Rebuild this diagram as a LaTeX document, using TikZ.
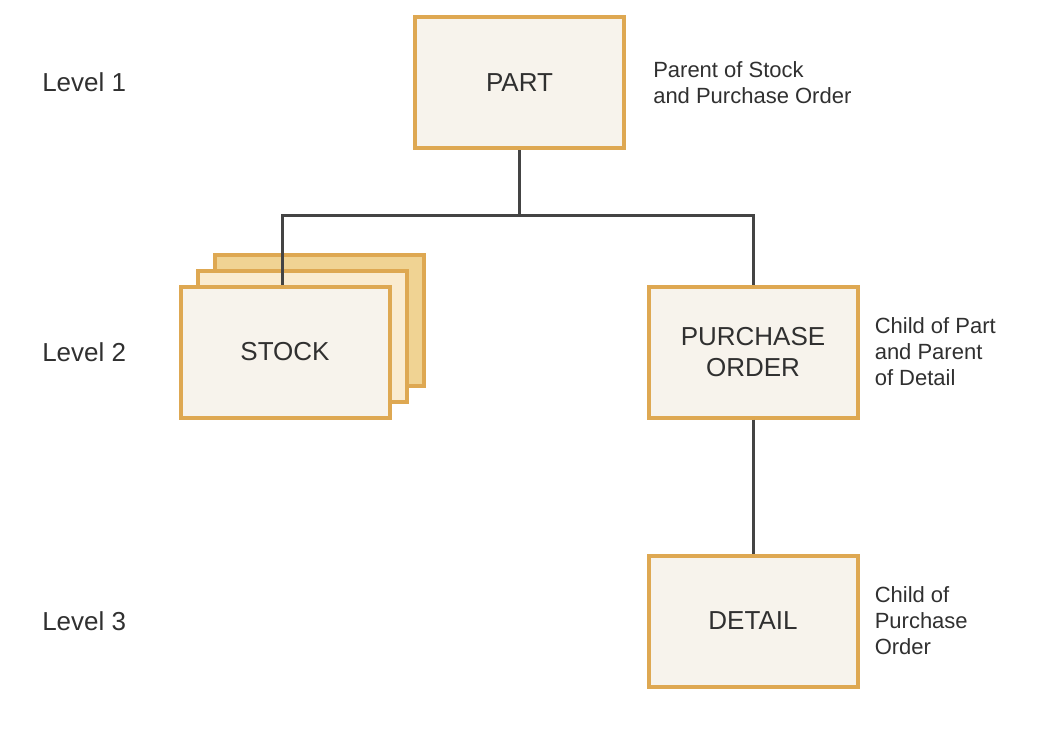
\documentclass[tikz,border=0pt]{standalone}
\usepackage{fontspec}
\setmainfont{Liberation Sans}
\usetikzlibrary{positioning}
\definecolor{boxedge}{HTML}{DEA852}
\definecolor{boxfill}{HTML}{F7F3EC}
\definecolor{midfill}{HTML}{FAEBD0}
\definecolor{backfill}{HTML}{F0D393}
\definecolor{wire}{HTML}{444444}
\definecolor{ink}{HTML}{303030}
\begin{document}
\begin{tikzpicture}[x=0.75pt, y=-0.75pt,
    segment/.style={draw=boxedge, line width=3pt, fill=boxfill, minimum width=156.75pt, minimum height=98.25pt, align=center, text=ink, font=\fontsize{19.5}{23.25}\selectfont},
    note/.style={align=left, inner sep=0pt, text=ink, font=\fontsize{16.5}{19.5}\selectfont},
    level/.style={anchor=west, inner sep=0pt, text=ink, font=\fontsize{19.5}{23.25}\selectfont},
    link/.style={draw=wire, line width=2.25pt}]
    \useasboundingbox (0,0) rectangle (1064,732);

    % Segments
    \node[segment] (PART) at (519.5,82.5) {PART};
    \node[segment, fill=backfill] (S3) at (319.5,320.5) {};
    \node[segment, fill=midfill] (S2) at (302,336.5) {};
    \node[segment] (STOCK) at (285,352) {STOCK};
    \node[segment] (PO) at (753,352) {PURCHASE\\ORDER};
    \node[segment] (DETAIL) at (753,621) {DETAIL};

    % Levels
    \node[level] (L1) at (42,82) {Level 1};
    \node[level] (L2) at (42,352) {Level 2};
    \node[level] (L3) at (42,621) {Level 3};

    % Notes
    \node[note, right=20.25pt of PART] (PARTnote) {Parent of Stock\\and Purchase Order};
    \node[note, right=11.25pt of PO] (POnote) {Child of Part\\and Parent\\of Detail};
    \node[note, right=11.25pt of DETAIL] (DETAILnote) {Child of\\Purchase\\Order};

    % Links
    \coordinate (split) at (519.5,215);
    \draw[link] (PART) -- (split);
    \draw[link] (split) -| ([xshift=-2.25pt]STOCK.north);
    \draw[link] (split) -| (PO);
    \draw[link] (PO) -- (DETAIL);
\end{tikzpicture}
\end{document}
